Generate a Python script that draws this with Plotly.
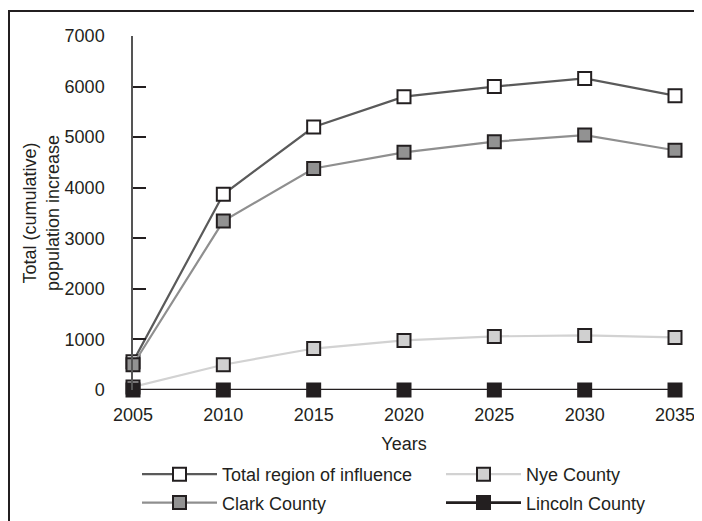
import plotly.graph_objects as go

years = [2005, 2010, 2015, 2020, 2025, 2030, 2035]
total_region = [560, 3870, 5200, 5800, 6000, 6160, 5820]
clark_county = [500, 3340, 4380, 4700, 4910, 5040, 4740]
nye_county = [60, 500, 820, 980, 1060, 1080, 1040]
lincoln_county = [0, 0, 0, 0, 0, 0, 0]
y_ticks = [0, 1000, 2000, 3000, 4000, 5000, 6000, 7000]

FONT = "Liberation Sans, Arial, Helvetica, sans-serif"
INK = "#231f20"
FS = 18

# name, values, line colour, marker fill, line width, legend id, group
series = [
    ("Total region of influence", total_region, "#5a5a5a", "white", 2.2, "legend", "a"),
    ("Nye County", nye_county, "#d2d2d2", "#d0d0d0", 2.2, "legend2", "c"),
    ("Clark County", clark_county, "#8f8f8f", "#929292", 2.2, "legend", "b"),
    ("Lincoln County", lincoln_county, INK, INK, 2.6, "legend2", "d"),
]

fig = go.Figure()
for name, vals, lc, fill, lw, leg, grp in series:
    fig.add_trace(go.Scatter(
        x=years, y=vals, name=name, mode="lines+markers",
        line=dict(color=lc, width=lw),
        marker=dict(symbol="square", size=13, color=fill,
                    line=dict(color=INK, width=2)),
        cliponaxis=False, legend=leg, legendgroup=grp,
    ))

# The page body has an 8px margin, so the figure is offset by 8px on screen.
OFF = 8
W, H = 702 - OFF, 521 - OFF
L, T = 133 - OFF, 36 - OFF
R = W - (675 - OFF)
B = H - (390 - OFF)
pw, ph = W - L - R, H - T - B

def px_x(sx):
    return (sx - OFF - L) / pw

def px_y(sy):
    return (H - B - (sy - OFF)) / ph

legend_common = dict(
    orientation="v", xanchor="left", yanchor="top",
    itemwidth=75, font=dict(family=FONT, size=FS, color=INK),
    tracegroupgap=2, traceorder="grouped", bgcolor="rgba(0,0,0,0)",
)

fig.update_layout(
    width=W, height=H,
    margin=dict(l=L, r=R, t=T, b=B, autoexpand=False),
    paper_bgcolor="white", plot_bgcolor="white",
    font=dict(family=FONT, size=FS, color=INK),
    showlegend=True,
    legend=dict(x=px_x(137), y=px_y(456), **legend_common),
    legend2=dict(x=px_x(441), y=px_y(456), **legend_common),
    xaxis=dict(
        range=[2005, 2035], tickvals=years, ticktext=[str(y) for y in years],
        showgrid=False, zeroline=False, showline=False, ticks="",
        tickfont=dict(size=FS), ticklabelstandoff=12,
        title=dict(text="Years", font=dict(size=FS), standoff=13),
        fixedrange=True,
    ),
    yaxis=dict(
        range=[0, 7000], tickvals=y_ticks, ticktext=[str(v) for v in y_ticks],
        showgrid=False, zeroline=False,
        showline=True, linecolor="#555555", linewidth=1.5,
        ticks="inside", ticklen=13, tickwidth=2, tickcolor=INK,
        tickfont=dict(size=FS), ticklabelstandoff=23,
        title=dict(text="Total (cumulative)<br>population increase",
                   font=dict(size=FS), standoff=0),
        fixedrange=True,
    ),
    shapes=[dict(
        type="rect", xref="paper", yref="paper",
        x0=px_x(9), x1=px_x(730), y0=px_y(560), y1=px_y(11),
        line=dict(color=INK, width=2), fillcolor="rgba(0,0,0,0)", layer="above",
    )],
)

fig.write_html("out.html")
